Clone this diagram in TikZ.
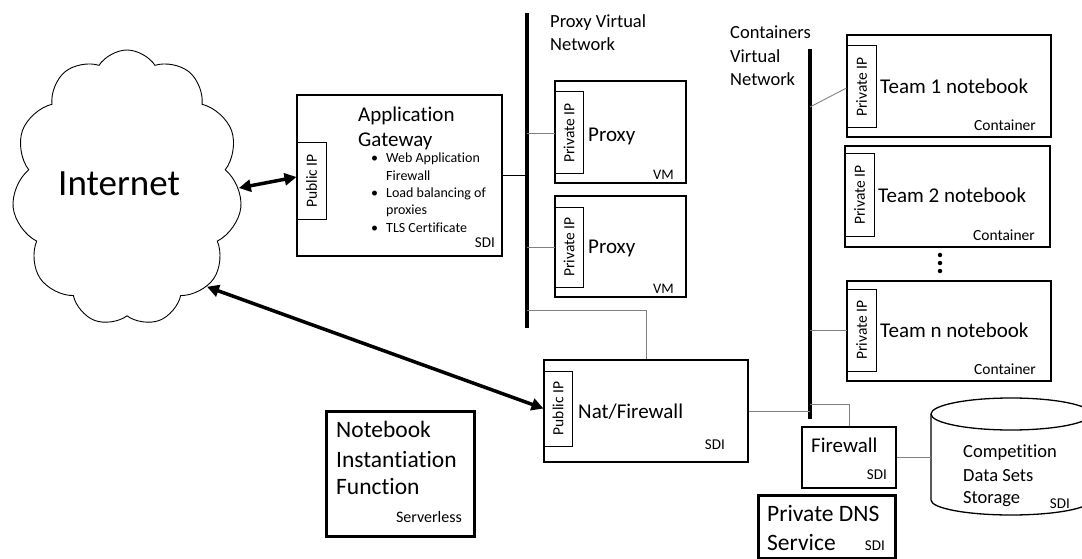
\documentclass[tikz,border=0pt]{standalone}
\usepackage{fontspec}
\setmainfont{Carlito}[Ligatures={NoCommon,NoContextual}]
\usetikzlibrary{shapes.symbols,arrows.meta}
\newcommand\fsz[1]{\fontsize{#1}{#1}\selectfont}
\begin{document}
\begin{tikzpicture}[x=1pt,y=-1pt,
  box/.style={draw, line width=1.7pt, inner sep=0},
  heavybox/.style={draw, line width=3pt, inner sep=0},
  ipbox/.style={draw, line width=1pt, inner sep=0, font=\fsz{15.5}},
  ltxt/.style={inner sep=0, anchor=base west},
  rtxt/.style={inner sep=0, anchor=base east},
  bus/.style={line width=3.6pt},
  conn/.style={draw=black!50, line width=0.9pt},
  bigarrow/.style={line width=3.5pt, {Triangle[length=12pt,width=12pt]}-{Triangle[length=12pt,width=12pt]}},
  dot/.style={circle, fill, inner sep=0, minimum size=4.5pt}]
\useasboundingbox (0,0) rectangle (1082,559);

% Internet cloud
\node[cloud, draw, cloud puffs=11, cloud puff arc=115, cloud ignores aspect,
      minimum width=230pt, minimum height=276pt, line width=0.9pt, inner sep=0] (inet) at (127,188) {};
\node[ltxt, font=\fsz{37}] (inettxt) at (58,195) {Internet};

% Application gateway
\node[box, minimum width=205, minimum height=161] (ag) at (399.5,175.5) {};
\node[ipbox, minimum width=29, minimum height=76] (agip) at (311.5,181) {\rotatebox{90}{Public IP}};
\node[ltxt, font=\fsz{21}] (ag1) at (358,122) {Application};
\node[ltxt, font=\fsz{21}] (ag2) at (358,147) {Gateway};
\node[ltxt, font=\fsz{14}] (agb1) at (371,163) {\textbullet};
\node[ltxt, font=\fsz{14}] (agl1) at (386,163) {Web Application};
\node[ltxt, font=\fsz{14}] (agl2) at (386,180) {Firewall};
\node[ltxt, font=\fsz{14}] (agb2) at (371,197) {\textbullet};
\node[ltxt, font=\fsz{14}] (agl3) at (386,197) {Load balancing of};
\node[ltxt, font=\fsz{14}] (agl4) at (386,214) {proxies};
\node[ltxt, font=\fsz{14}] (agb3) at (371,232) {\textbullet};
\node[ltxt, font=\fsz{14}] (agl5) at (386,232) {TLS Certificate};
\node[rtxt, font=\fsz{15}] (agsdi) at (495,247) {SDI};

% Proxy virtual network
\coordinate (pbt) at (527,13);
\coordinate (pbb) at (527,328);
\coordinate (pbj) at (527,310);
\draw[bus] (pbt) -- (pbb);
\node[ltxt, font=\fsz{18.5}] (pvn1) at (550,28) {Proxy Virtual};
\node[ltxt, font=\fsz{18.5}] (pvn2) at (550,51) {Network};
\draw[line width=1.4pt] (ag.east) -- (ag.east -| pbt);

% Proxies
\node[box, minimum width=131, minimum height=102] (p1) at (620.5,132) {};
\node[ipbox, minimum width=28, minimum height=82] (p1ip) at (569,133) {\rotatebox{90}{Private IP}};
\node[ltxt, font=\fsz{21}] (p1t) at (588,142) {Proxy};
\node[rtxt, font=\fsz{14.5}] (p1vm) at (674,179) {VM};
\node[box, minimum width=131, minimum height=101] (p2) at (620.5,246.5) {};
\node[ipbox, minimum width=28, minimum height=80] (p2ip) at (569,247) {\rotatebox{90}{Private IP}};
\node[ltxt, font=\fsz{21}] (p2t) at (588,253) {Proxy};
\node[rtxt, font=\fsz{14.5}] (p2vm) at (674,293) {VM};
\draw[conn] (p1ip.west -| pbt) -- (p1ip.west);
\draw[conn] (p2ip.west -| pbt) -- (p2ip.west);

% Nat / Firewall
\node[box, minimum width=204, minimum height=102] (nat) at (646,411) {};
\node[ipbox, minimum width=28, minimum height=75] (natip) at (558,408.5) {\rotatebox{90}{Public IP}};
\node[ltxt, font=\fsz{21}] (natt) at (578,418) {Nat/Firewall};
\node[rtxt, font=\fsz{15}] (natsdi) at (725,449) {SDI};
\draw[conn] (pbj) -| (nat.north);

% Arrows to internet
\draw[bigarrow] (inet.east) -- ([yshift=4pt]agip.west);
\draw[bigarrow] (inet.-51) -- (natip.west);

% Containers virtual network
\coordinate (cbt) at (810,49);
\coordinate (cbb) at (810,419);
\coordinate (cb1) at (810,107);
\coordinate (cb2) at (810,404);
\draw[bus] (cbt) -- (cbb);
\node[ltxt, font=\fsz{18.5}] (cvn1) at (730,39) {Containers};
\node[ltxt, font=\fsz{18.5}] (cvn2) at (730,63) {Virtual};
\node[ltxt, font=\fsz{18.5}] (cvn3) at (730,86) {Network};

% Team notebooks
\node[box, minimum width=204, minimum height=102] (t1) at (949,86) {};
\node[ipbox, minimum width=29, minimum height=82] (t1ip) at (861.5,87) {\rotatebox{90}{Private IP}};
\node[ltxt, font=\fsz{21}] (t1t) at (880,94) {Team 1 notebook};
\node[rtxt, font=\fsz{15.5}] (t1c) at (1036,131) {Container};
\node[box, minimum width=205, minimum height=101] (t2) at (947.5,196.5) {};
\node[ipbox, minimum width=29, minimum height=82] (t2ip) at (859.5,195) {\rotatebox{90}{Private IP}};
\node[ltxt, font=\fsz{21}] (t2t) at (878,203) {Team 2 notebook};
\node[rtxt, font=\fsz{15.5}] (t2c) at (1035,240) {Container};
\node[dot] (d1) at (940,255) {};
\node[dot] (d2) at (940,263) {};
\node[dot] (d3) at (940,271) {};
\node[box, minimum width=204, minimum height=100] (tn) at (949,331) {};
\node[ipbox, minimum width=29, minimum height=82] (tnip) at (861.5,330) {\rotatebox{90}{Private IP}};
\node[ltxt, font=\fsz{21}] (tnt) at (880,337) {Team n notebook};
\node[rtxt, font=\fsz{15.5}] (tnc) at (1036,374) {Container};
\draw[conn] (cb1) -- ([yshift=-1pt]t1ip.west);
\draw[conn] (tnip.west -| cbt) -- (tnip.west);

% Firewall
\node[box, minimum width=94, minimum height=61] (fw) at (849,457.5) {};
\node[ltxt, font=\fsz{21}] (fwt) at (811,452) {Firewall};
\node[rtxt, font=\fsz{15}] (fwsdi) at (887,479) {SDI};
\draw[conn] (nat.east) -- (nat.east -| cbt);
\draw[conn] (cb2) -| (fw.north);

% Storage cylinder
\coordinate (stw) at (931,457.5);
\draw[line width=1.3pt] (1011,414) ellipse [x radius=80, y radius=16];
\draw[line width=1.3pt] (931,414) -- (931,500) arc[start angle=180, end angle=0, x radius=80, y radius=15] -- (1091,414);
\node[ltxt, font=\fsz{18.5}] (st1) at (963,457) {Competition};
\node[ltxt, font=\fsz{18.5}] (st2) at (963,481) {Data Sets};
\node[ltxt, font=\fsz{18.5}] (st3) at (963,503) {Storage};
\node[rtxt, font=\fsz{15}] (stsdi) at (1070,508) {SDI};
\draw[conn] (fw.east) -- (stw);

% Private DNS
\node[heavybox, minimum width=137, minimum height=63] (dns) at (826.5,526.5) {};
\node[ltxt, font=\fsz{23.5}] (dns1) at (767,521) {Private DNS};
\node[ltxt, font=\fsz{23.5}] (dns2) at (767,550) {Service};
\node[rtxt, font=\fsz{15}] (dnssdi) at (885,550) {SDI};

% Notebook instantiation function
\node[heavybox, minimum width=148, minimum height=125] (nb) at (400,473.5) {};
\node[ltxt, font=\fsz{23.5}] (nb1) at (336,437) {Notebook};
\node[ltxt, font=\fsz{23.5}] (nb2) at (336,467) {Instantiation};
\node[ltxt, font=\fsz{23.5}] (nb3) at (336,494) {Function};
\node[rtxt, font=\fsz{16}] (nbs) at (462,522) {Serverless};
\end{tikzpicture}
\end{document}
